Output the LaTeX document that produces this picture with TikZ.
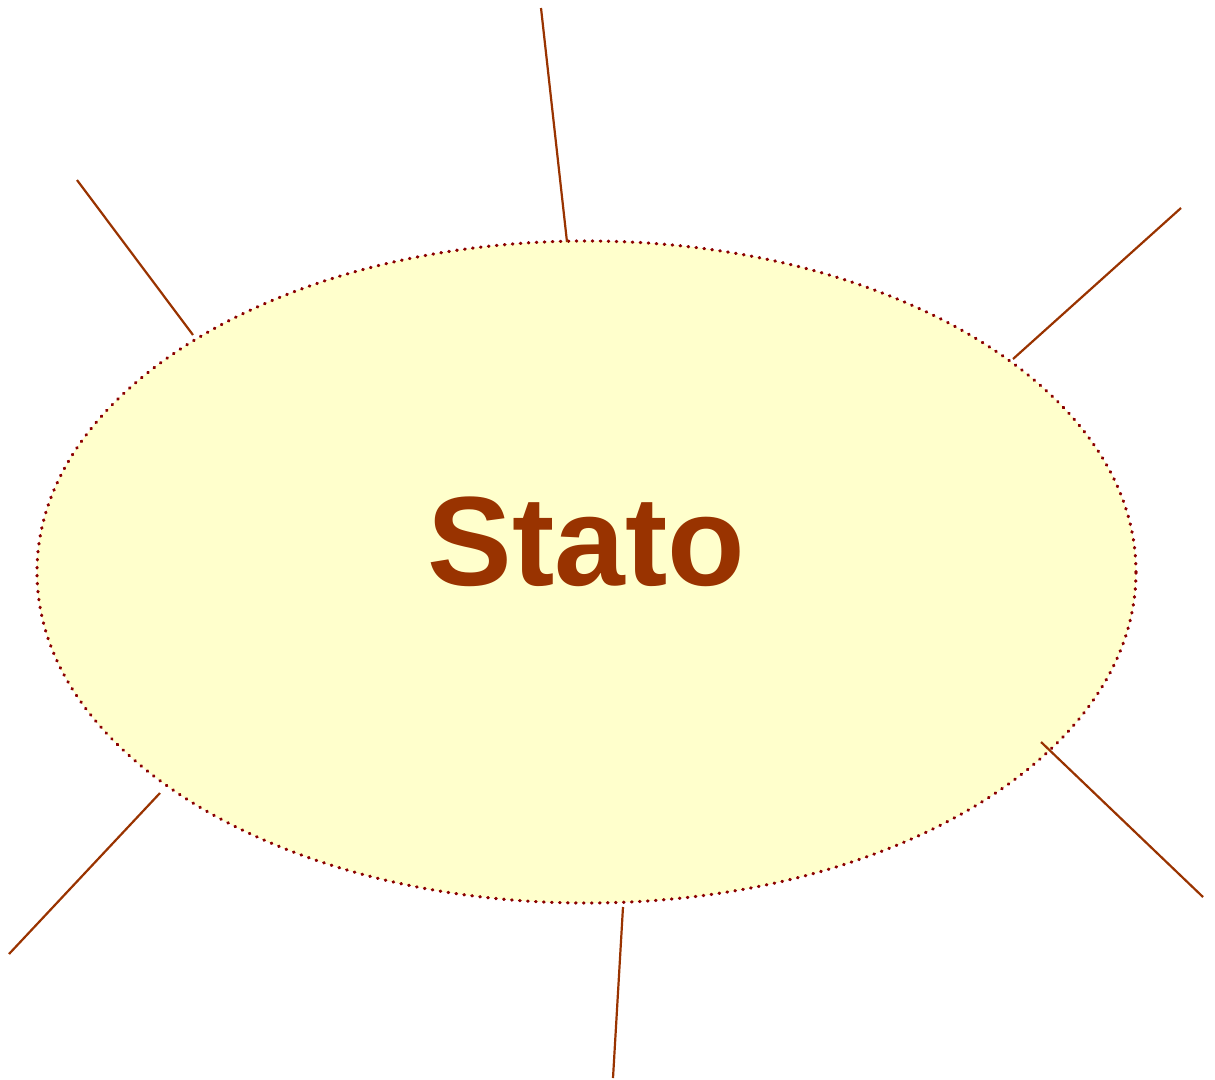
\documentclass[tikz,border=0pt]{standalone}
\usepackage{fontspec}
\setmainfont{Liberation Sans}
\usetikzlibrary{shapes.geometric}
\definecolor{fillyellow}{HTML}{FFFFCC}
\definecolor{rimred}{HTML}{8B0000}
\definecolor{spoke}{HTML}{993300}
\tikzset{
  statoshape/.style={ellipse, fill=fillyellow, draw=rimred, line width=3.2pt,
    dash pattern=on 0.6pt off 7.4pt, line cap=round,
    minimum width=1099pt, minimum height=662pt, inner sep=0pt},
  spokeline/.style={draw=spoke, line width=2.2pt},
  statotext/.style={text=spoke, font=\bfseries\fontsize{127}{127}\selectfont, inner sep=0pt, anchor=base}
}
\begin{document}
\begin{tikzpicture}[x=1pt,y=-1pt]
\useasboundingbox (0,0) rectangle (1215,1079);
\node[statoshape] (stato) at (586.5,572) {};
\node[statotext] (label) at (586.5,585) {Stato};
% outer ends
\coordinate (o1) at (541,8);
\coordinate (o2) at (77,180);
\coordinate (o3) at (1181,208);
\coordinate (o4) at (1203,897);
\coordinate (o5) at (613,1078);
\coordinate (o6) at (9,954);
% inner ends
\coordinate (i1) at (567,242);
\coordinate (i2) at (193,335);
\coordinate (i3) at (1013,359);
\coordinate (i4) at (1041,742);
\coordinate (i5) at (623,907);
\coordinate (i6) at (160,793);
\draw[spokeline] (o1) -- (i1);
\draw[spokeline] (o2) -- (i2);
\draw[spokeline] (o3) -- (i3);
\draw[spokeline] (o4) -- (i4);
\draw[spokeline] (o5) -- (i5);
\draw[spokeline] (o6) -- (i6);
\end{tikzpicture}
\end{document}
